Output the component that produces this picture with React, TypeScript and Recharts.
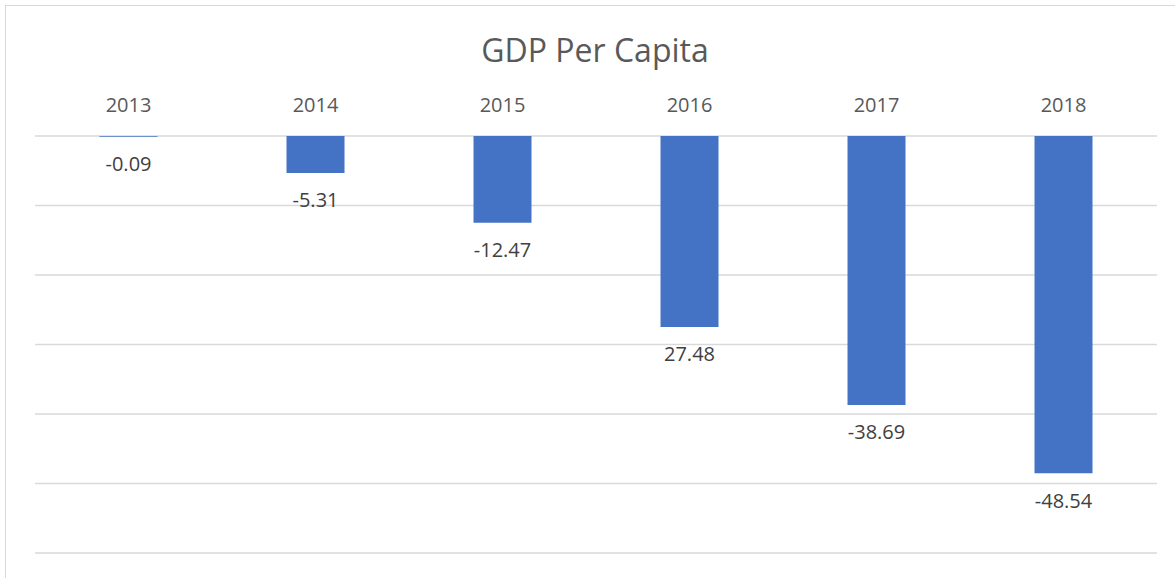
import { Bar, BarChart, CartesianGrid, LabelList, XAxis, YAxis } from "recharts";

// GDP per capita change, shown as downward bars from a zero line at the top
const YEARS = ["2013", "2014", "2015", "2016", "2017", "2018"];
const VALUES = [-0.09, -5.31, -12.47, -27.48, -38.69, -48.54];
// label text as printed on the chart (2016 appears without its minus sign)
const VALUE_LABELS = ["-0.09", "-5.31", "-12.47", "27.48", "-38.69", "-48.54"];
const Y_TICKS = [-60, -50, -40, -30, -20, -10, 0];

const FONT = "'Open Sans', 'Noto Sans', sans-serif";
const BAR_COLOR = "#4472c4";
const GRID_COLOR = "#d9d9d9";

const rows = YEARS.map((year, i) => ({ year, value: VALUES[i], label: VALUE_LABELS[i] }));

function YearTick(props: any) {
  const { x, y, payload } = props;
  return (
    <text
      x={x}
      y={y - 24}
      textAnchor="middle"
      dominantBaseline="central"
      fill="#595959"
      fontSize={20}
      fontFamily={FONT}
    >
      {payload.value}
    </text>
  );
}

function ValueLabel(props: any) {
  const { x, y, width, height, value } = props;
  const bottom = Math.max(y, y + height);
  return (
    <text
      x={x + width / 2}
      y={bottom + 27}
      textAnchor="middle"
      dominantBaseline="central"
      fill="#404040"
      fontSize={20}
      fontFamily={FONT}
    >
      {value}
    </text>
  );
}

export default function App() {
  return (
    <div
      style={{
        position: "absolute",
        left: 0,
        top: 0,
        width: 1175,
        height: 578,
        overflow: "hidden",
        background: "#fff",
      }}
    >
      {/* chart frame, cropped on the right and bottom like the original */}
      <div
        style={{
          position: "absolute",
          left: 5,
          top: 5,
          width: 1200,
          height: 600,
          border: `1.5px solid ${GRID_COLOR}`,
        }}
      />
      <div
        style={{
          position: "absolute",
          left: 0,
          top: 50,
          width: 1190,
          textAlign: "center",
          fontFamily: FONT,
          fontSize: 32,
          color: "#595959",
          lineHeight: "0px",
        }}
      >
        GDP Per Capita
      </div>
      <div style={{ position: "absolute", left: 0, top: 0 }}>
        <BarChart
          width={1175}
          height={578}
          data={rows}
          margin={{ top: 100, right: 18, bottom: 25, left: 35 }}
          barCategoryGap="34.5%"
        >
          <CartesianGrid vertical={false} stroke={GRID_COLOR} strokeWidth={1.5} />
          <XAxis
            dataKey="year"
            orientation="top"
            height={36}
            axisLine={false}
            tickLine={false}
            tick={<YearTick />}
            interval={0}
          />
          <YAxis hide width={0} domain={[-60, 0]} ticks={Y_TICKS} />
          <Bar dataKey="value" fill={BAR_COLOR} isAnimationActive={false}>
            <LabelList dataKey="label" content={<ValueLabel />} />
          </Bar>
        </BarChart>
      </div>
    </div>
  );
}
